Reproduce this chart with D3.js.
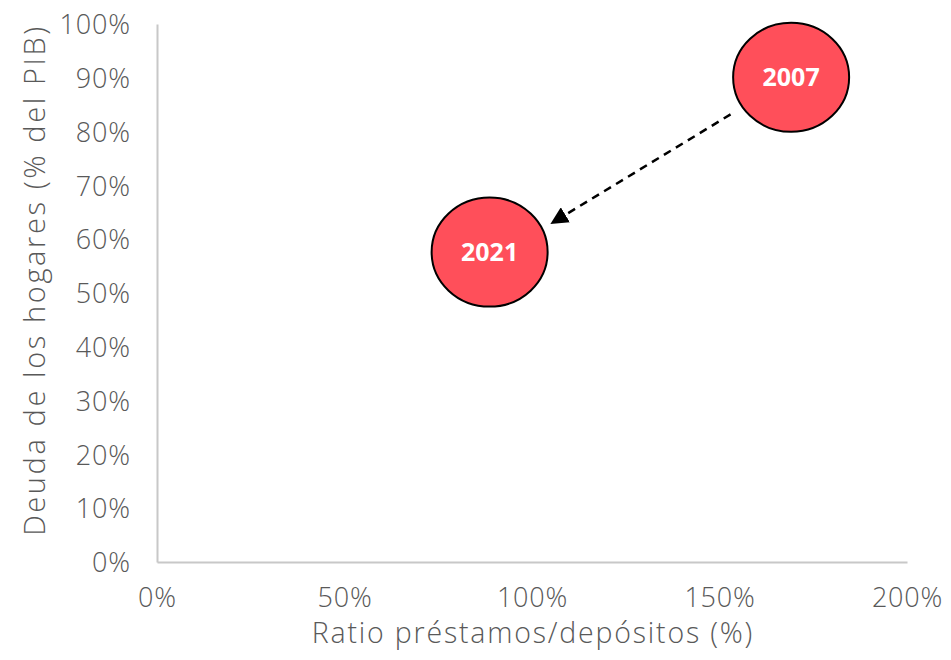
<!DOCTYPE html>
<html>
<head>
<meta charset="utf-8">
<script src="https://cdn.jsdelivr.net/npm/d3@7"></script>
<style>
  html, body { margin: 0; padding: 0; background: #fff; }
  svg { display: block; }
</style>
</head>
<body>
<svg id="chart" width="951" height="660"></svg>
<script>
// Household debt vs loan-to-deposit ratio, two snapshots
const years = ["2007", "2021"];
const loanToDeposit = [1.691, 0.887];   // x: ratio préstamos/depósitos
const householdDebt = [0.901, 0.576];   // y: deuda de los hogares (% del PIB)
const xTicks = [0, 0.5, 1, 1.5, 2];
const yTicks = [0, 0.1, 0.2, 0.3, 0.4, 0.5, 0.6, 0.7, 0.8, 0.9, 1];
const xTitle = "Ratio préstamos/depósitos (%)";
const yTitle = "Deuda de los hogares (% del PIB)";

const svg = d3.select("#chart");
const W = 951, H = 660;
const m = { left: 157, right: 44, top: 24, bottom: 98 };

const x = d3.scaleLinear().domain([0, 2]).range([m.left, W - m.right]);
const y = d3.scaleLinear().domain([0, 1]).range([H - m.bottom, m.top]);

const fontFamily = "'Open Sans', 'DejaVu Sans', sans-serif";
const textColor = "#595959";
const axisColor = "#c8c8c8";

// Axes
const xAxis = d3.axisBottom(x).tickValues(xTicks).tickSize(0).tickPadding(26)
  .tickFormat(d3.format(".0%"));
const yAxis = d3.axisLeft(y).tickValues(yTicks).tickSize(0).tickPadding(27)
  .tickFormat(d3.format(".0%"));

const gx = svg.append("g").attr("transform", `translate(0,${y(0)})`).call(xAxis);
const gy = svg.append("g").attr("transform", `translate(${x(0)},0)`).call(yAxis);

[gx, gy].forEach(g => {
  g.select(".domain").attr("stroke", axisColor).attr("stroke-width", 2);
  g.selectAll(".tick text")
    .attr("fill", textColor)
    .style("font-family", fontFamily)
    .style("font-weight", 300)
    .style("font-size", "27px")
    .style("letter-spacing", "0.8px");
});
gx.selectAll(".tick text").attr("dy", "0.71em");
gy.selectAll(".tick text").attr("dy", "0.36em").attr("dx", "0.8px");

// Axis titles
svg.append("text")
  .attr("x", (x(0) + x(2)) / 2 + 1)
  .attr("y", 643)
  .attr("text-anchor", "middle")
  .attr("fill", textColor)
  .style("font-family", fontFamily)
  .style("font-weight", 300)
  .style("font-size", "28.5px")
  .style("letter-spacing", "1.8px")
  .text(xTitle);

svg.append("text")
  .attr("transform", `translate(45,${280}) rotate(-90)`)
  .attr("text-anchor", "middle")
  .attr("fill", textColor)
  .style("font-family", fontFamily)
  .style("font-weight", 300)
  .style("font-size", "29px")
  .style("letter-spacing", "2.6px")
  .text(yTitle);

// Arrow marker
const defs = svg.append("defs");
defs.append("marker")
  .attr("id", "arrowhead")
  .attr("viewBox", "0 0 10 10")
  .attr("refX", 9).attr("refY", 5)
  .attr("markerWidth", 7).attr("markerHeight", 7)
  .attr("markerUnits", "strokeWidth")
  .attr("orient", "auto")
  .append("path")
  .attr("d", "M0,0 L10,5 L0,10 Z")
  .attr("fill", "#000");

const pts = years.map((yr, i) => ({ yr, px: x(loanToDeposit[i]), py: y(householdDebt[i]) }));

// Dashed arrow from the 2007 bubble to the 2021 bubble
const a = pts[0], b = pts[1];
const dx = b.px - a.px, dy = b.py - a.py, len = Math.hypot(dx, dy);
const ux = dx / len, uy = dy / len;
svg.append("line")
  .attr("x1", a.px + ux * 70).attr("y1", a.py + uy * 70 + 2)
  .attr("x2", b.px - ux * 72).attr("y2", b.py - uy * 72 + 7)
  .attr("stroke", "#000")
  .attr("stroke-width", 2.5)
  .attr("stroke-dasharray", "8,6")
  .attr("marker-end", "url(#arrowhead)");

// Bubbles
const bubble = svg.append("g").selectAll("g").data(pts).join("g");
bubble.append("ellipse")
  .attr("cx", d => d.px).attr("cy", d => d.py)
  .attr("rx", 58).attr("ry", 54.5)
  .attr("fill", "#ff4f5a")
  .attr("stroke", "#000")
  .attr("stroke-width", 2);
bubble.append("text")
  .attr("x", d => d.px).attr("y", d => d.py)
  .attr("dy", "0.36em")
  .attr("text-anchor", "middle")
  .attr("fill", "#fff")
  .style("font-family", "'Open Sans', 'Liberation Sans', sans-serif")
  .style("font-weight", 700)
  .style("font-size", "25px")
  .text(d => d.yr);
</script>
</body>
</html>
